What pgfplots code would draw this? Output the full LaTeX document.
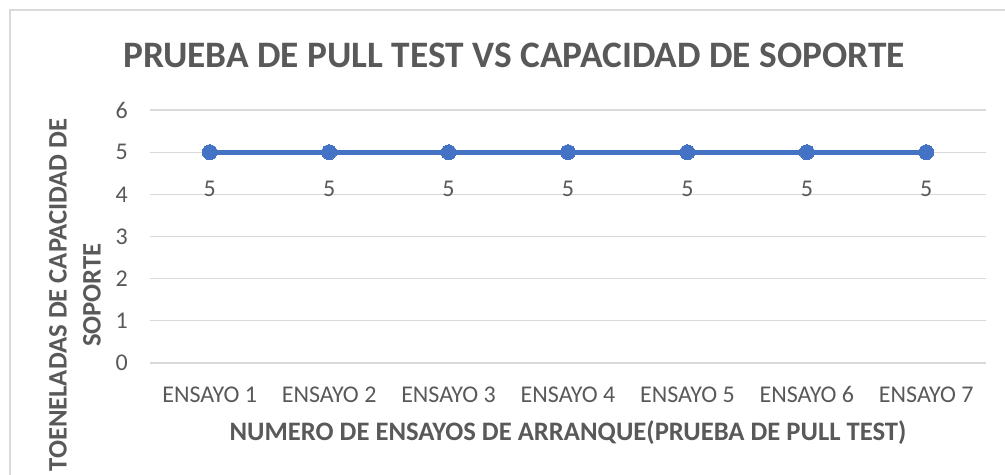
\documentclass[border=0pt]{standalone}
\usepackage{pgfplots}
\pgfplotsset{compat=1.18}
\usepackage{fontspec}
\setmainfont{Carlito}
\definecolor{txt}{HTML}{595959}
\definecolor{grd}{HTML}{D9D9D9}
\definecolor{ln}{HTML}{4472C4}
\begin{document}
\begin{tikzpicture}
\useasboundingbox (0,0) rectangle (753.75pt,355.5pt);
\clip (0,0) rectangle (753.75pt,355.5pt);
\fill[white] (0,0) rectangle (753.75pt,355.5pt);
\draw[grd, line width=0.9pt] (7.5pt,-20pt) -- (7.5pt,348pt) -- (780pt,348pt);
\node[text=txt, font=\fontsize{28}{33}\selectfont\bfseries] at (385.5pt,314.25pt) {PRUEBA DE PULL TEST VS CAPACIDAD DE SOPORTE};
\begin{axis}[
  at={(112.5pt,83.25pt)}, anchor=south west,
  scale only axis, width=627pt, height=189.75pt,
  xmin=-0.5, xmax=6.5, ymin=0, ymax=6,
  xtick={0,1,2,3,4,5,6},
  xticklabels={ENSAYO 1,ENSAYO 2,ENSAYO 3,ENSAYO 4,ENSAYO 5,ENSAYO 6,ENSAYO 7},
  ytick={0,1,2,3,4,5,6},
  axis line style={draw=none},
  major tick length=0pt,
  ymajorgrids, major grid style={grd, line width=1pt},
  tick label style={text=txt, font=\fontsize{18}{21}\selectfont},
  xticklabel style={anchor=base, inner sep=0pt, yshift=-30pt},
  yticklabel style={anchor=east, inner sep=0pt, xshift=-16.5pt},
  /pgf/number format/assume math mode=true,
  xlabel={NUMERO DE ENSAYOS DE ARRANQUE(PRUEBA DE PULL TEST)},
  xlabel style={at={(axis description cs:0.5,0)}, anchor=center, yshift=-52.5pt, text=txt, font=\fontsize{20}{24}\selectfont\bfseries},
  ylabel={TOENELADAS DE CAPACIDAD DE\\SOPORTE},
  ylabel style={at={(axis description cs:-0.0897,0.269)}, anchor=center, align=center, text=txt, font=\fontsize{20}{25.5}\selectfont\bfseries},
  clip=false,
]
\addplot[ln, line width=3.6pt, mark=*, mark size=5.6pt, mark options={fill=ln, draw=ln, line width=0pt},
  nodes near coords, every node near coord/.style={anchor=base, inner sep=0pt, yshift=-33pt, text=txt, font=\fontsize{18}{21}\selectfont},
  point meta=explicit symbolic]
coordinates {(0,5)[5] (1,5)[5] (2,5)[5] (3,5)[5] (4,5)[5] (5,5)[5] (6,5)[5]};
\end{axis}
\end{tikzpicture}
\end{document}
